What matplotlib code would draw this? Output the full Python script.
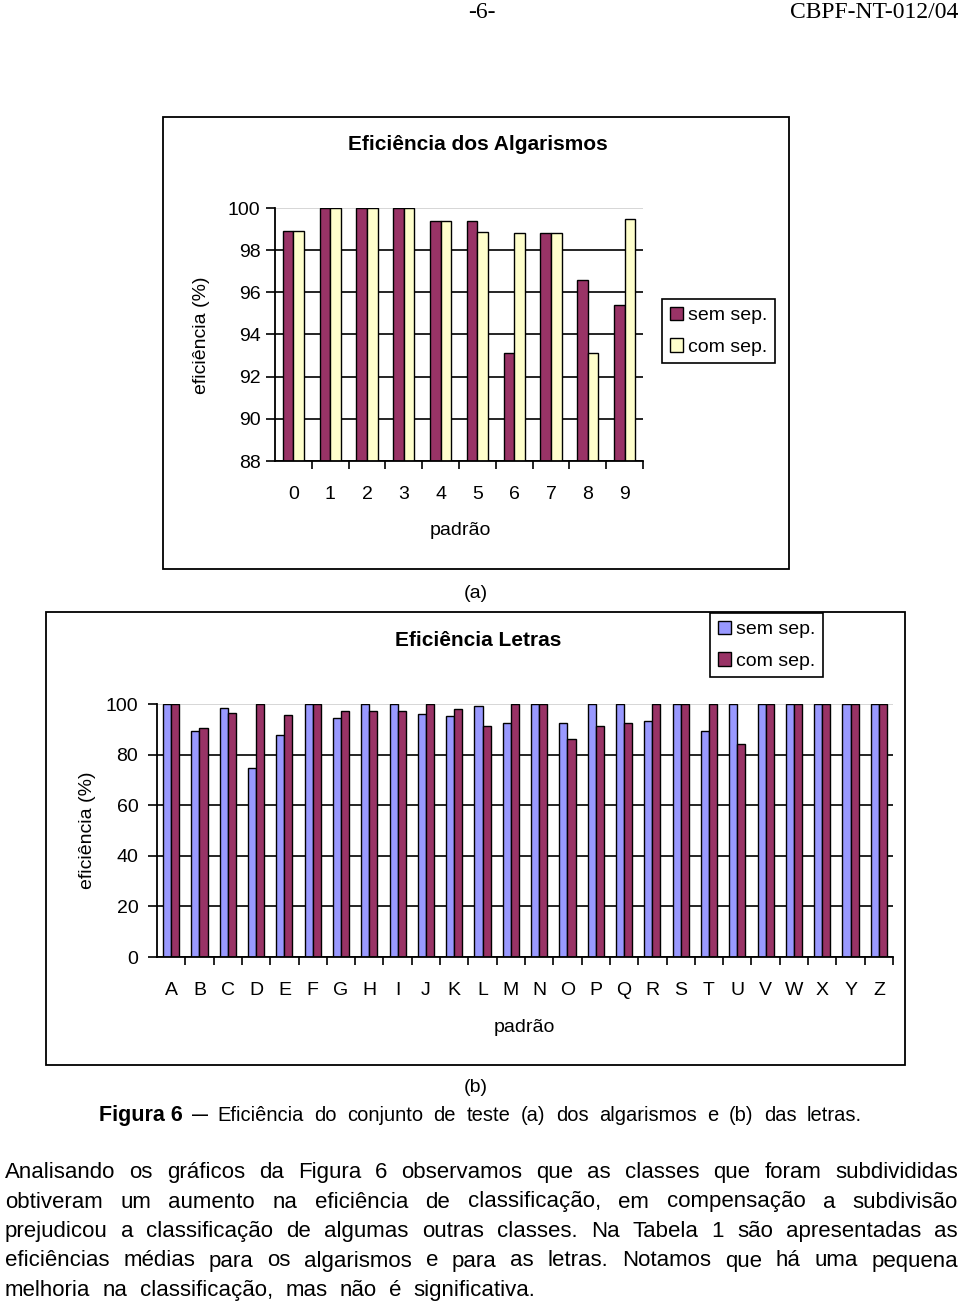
# -*- coding:utf-8 -*-
# Figura 6 - eficiencia dos algarismos (a) e das letras (b), pagina do CBPF-NT-012/04
import numpy as np
import matplotlib
matplotlib.use('Agg')
import matplotlib.pyplot as plt
from matplotlib.patches import Rectangle

plt.rcParams['font.family'] = ['Liberation Sans', 'DejaVu Sans']

W, H = 960, 1304

# ---------------- dados ----------------
digitos = ['0', '1', '2', '3', '4', '5', '6', '7', '8', '9']
dig_sem = [98.9, 100, 100, 100, 99.4, 99.4, 93.1, 98.8, 96.6, 95.4]
dig_com = [98.9, 100, 100, 100, 99.4, 98.85, 98.8, 98.8, 93.1, 99.5]

letras = list('ABCDEFGHIJKLMNOPQRSTUVWXYZ')
let_sem = [100, 89.4, 98.5, 74.8, 87.9, 100, 94.6, 100, 100, 95.9, 95.4, 99.2, 92.6,
           100, 92.6, 100, 100, 93.3, 100, 89.3, 100, 100, 100, 100, 100, 100]
let_com = [100, 90.6, 96.6, 100, 95.8, 100, 97.2, 97.2, 97.2, 100, 97.9, 91.4, 100,
           100, 86.0, 91.3, 92.6, 100, 100, 100, 84.2, 100, 100, 100, 100, 100]

dig_yticks = [88, 90, 92, 94, 96, 98, 100]
let_yticks = [0, 20, 40, 60, 80, 100]

serie_nomes = ['sem sep.', 'com sep.']
titulo_a = 'Eficiência dos Algarismos'
titulo_b = 'Eficiência Letras'
eixo_y = 'eficiência (%)'
eixo_x = 'padrão'

cab_pag = '-6-'
cab_ref = 'CBPF-NT-012/04'
legenda_fig = 'Eficiência do conjunto de teste (a) dos algarismos e (b) das letras.'
paragrafo = [
    'Analisando os gráficos da Figura 6 observamos que as classes que foram subdivididas',
    'obtiveram um aumento na eficiência de classificação, em compensação a subdivisão',
    'prejudicou a classificação de algumas outras classes. Na Tabela 1 são apresentadas as',
    'eficiências médias para os algarismos e para as letras. Notamos que há uma pequena',
    'melhoria na classificação, mas não é significativa.',
]

MARROM = '#993366'
CREME = '#FFFFCC'
AZUL = '#9999FF'

FS = 14  # texto dos graficos

fig = plt.figure(figsize=(W / 100, H / 100), dpi=100)


def fy(y):
    return 1 - y / H


def caixa(x0, y0, x1, y1, lw=1.3):
    fig.patches.append(Rectangle((x0 / W, fy(y1)), (x1 - x0) / W, (y1 - y0) / H,
                                 transform=fig.transFigure, fill=False,
                                 ec='black', lw=lw))


def barras(l, t, r, b, cats, sem, com, cores, yticks, ypad, leg_xy):
    ax = fig.add_axes([l / W, fy(b), (r - l) / W, (b - t) / H])
    x = np.arange(len(cats))
    w = 0.286
    b1 = ax.bar(x - w / 2, sem, w, color=cores[0], edgecolor='black', lw=1.0)
    b2 = ax.bar(x + w / 2, com, w, color=cores[1], edgecolor='black', lw=1.0)
    ax.set_xlim(-0.5, len(cats) - 0.5)
    ax.set_ylim(yticks[0], yticks[-1])
    ax.set_yticks(yticks)
    ax.set_xticks(x)
    ax.set_xticklabels(cats)
    ax.set_xticks(np.arange(0.5, len(cats), 1), minor=True)
    ax.set_axisbelow(True)
    ax.grid(axis='y', color='black', lw=1.2)
    ax.get_ygridlines()[-1].set_color('#d0d0d0')
    for s in ['top', 'right']:
        ax.spines[s].set_visible(False)
    for s in ['left', 'bottom']:
        ax.spines[s].set_linewidth(1.3)
    ax.tick_params(axis='y', direction='out', length=6.5, width=1.2,
                   pad=ypad, labelsize=FS)
    ax.tick_params(axis='x', which='major', length=0, pad=18, labelsize=FS)
    ax.tick_params(axis='x', which='minor', direction='out', length=6, width=1.2)
    lg = fig.legend([b1, b2], serie_nomes, loc='upper left',
                    bbox_to_anchor=(leg_xy[0] / W, fy(leg_xy[1])),
                    frameon=True, fancybox=False, edgecolor='black', framealpha=1,
                    fontsize=FS, handlelength=0.7, handleheight=0.7,
                    handletextpad=0.25, labelspacing=0.7, borderpad=0.4,
                    borderaxespad=0)
    lg.get_frame().set_linewidth(1.2)
    return ax


def justificar(linha, x0, x1, y, size, natural=False, **kw):
    r = fig.canvas.get_renderer()
    palavras = linha.split()
    objs = [fig.text(0, fy(y), p, fontsize=size, ha='left', va='baseline', **kw)
            for p in palavras]
    larg = [o.get_window_extent(r).width for o in objs]
    if natural or len(palavras) == 1:
        t1 = fig.text(0, 0, 'a b', fontsize=size)
        t2 = fig.text(0, 0, 'ab', fontsize=size)
        gap = 2.0 * (t1.get_window_extent(r).width - t2.get_window_extent(r).width)
        t1.remove()
        t2.remove()
    else:
        gap = (x1 - x0 - sum(larg)) / (len(palavras) - 1)
    x = x0
    for o, wd in zip(objs, larg):
        o.set_x(x / W)
        x += wd + gap


# ---------------- cabecalho ----------------
fig.text(482 / W, fy(13), cab_pag, fontsize=17, family='Liberation Serif',
         ha='center', va='center')
fig.text(958 / W, fy(13), cab_ref, fontsize=17, family='Liberation Serif',
         ha='right', va='center')

# ---------------- (a) algarismos ----------------
caixa(163, 117, 789, 569)
barras(275, 208, 643, 461, digitos, dig_sem, dig_com, [MARROM, CREME],
       dig_yticks, 4, (662, 299))
fig.text(478 / W, fy(145), titulo_a, fontsize=15, weight='bold',
         ha='center', va='center')
fig.text(201 / W, fy(335), eixo_y, fontsize=FS, rotation=90,
         ha='center', va='center')
fig.text(460 / W, fy(531), eixo_x, fontsize=FS, ha='center', va='center')
fig.text(476 / W, fy(593), '(a)', fontsize=FS, ha='center', va='center')

# ---------------- (b) letras ----------------
caixa(46, 612, 905, 1065)
barras(157, 704, 893, 957, letras, let_sem, let_com, [AZUL, MARROM],
       let_yticks, 7, (710, 613))
fig.text(478 / W, fy(641), titulo_b, fontsize=15, weight='bold',
         ha='center', va='center')
fig.text(87 / W, fy(830), eixo_y, fontsize=FS, rotation=90,
         ha='center', va='center')
fig.text(524 / W, fy(1027), eixo_x, fontsize=FS, ha='center', va='center')
fig.text(476 / W, fy(1088), '(b)', fontsize=FS, ha='center', va='center')

# ---------------- legenda da figura ----------------
fig.text(99 / W, fy(1121), 'Figura 6', fontsize=15.5, weight='bold',
         ha='left', va='baseline')
fig.text(192 / W, fy(1120), '\u2014', fontsize=11.5, weight='bold',
         ha='left', va='baseline')
justificar(legenda_fig, 217, 862, 1121, 14.5)

# ---------------- paragrafo ----------------
for i, linha in enumerate(paragrafo):
    y = 1178 + i * 29.5
    ultima = i == len(paragrafo) - 1
    justificar(linha, 5, 958, y, 16, natural=ultima)

fig.savefig('out.png', dpi=100)
